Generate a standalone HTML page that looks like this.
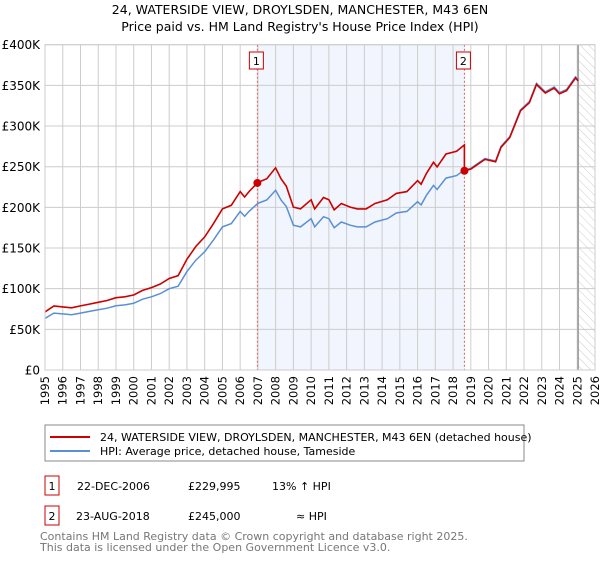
<!DOCTYPE html>
<html><head><meta charset="utf-8"><style>
body{margin:0;background:#fff;font-family:"Liberation Sans","DejaVu Sans",sans-serif;}
svg text{font-family:"DejaVu Sans","Liberation Sans",sans-serif;}
</style></head><body>
<svg id="chart" width="600" height="560" xmlns="http://www.w3.org/2000/svg">
<defs><pattern id="hatch" width="6" height="6" patternUnits="userSpaceOnUse" patternTransform="rotate(-45)"><line x1="0" y1="0" x2="0" y2="6" stroke="#ccc" stroke-width="1"/></pattern></defs>
<text x="300" y="14" text-anchor="middle" font-size="12.5">24, WATERSIDE VIEW, DROYLSDEN, MANCHESTER, M43 6EN</text>
<text x="300" y="31" text-anchor="middle" font-size="12.5">Price paid vs. HM Land Registry's House Price Index (HPI)</text>
<g id="plot"></g>
<rect x="45" y="425" width="479" height="36" fill="#fff" stroke="#888"/>
<line x1="50" y1="437" x2="90" y2="437" stroke="#cc0000" stroke-width="2"/>
<text x="100" y="441" font-size="11">24, WATERSIDE VIEW, DROYLSDEN, MANCHESTER, M43 6EN (detached house)</text>
<line x1="50" y1="451" x2="90" y2="451" stroke="#5b8fd4" stroke-width="2"/>
<text x="100" y="455" font-size="11">HPI: Average price, detached house, Tameside</text>
<rect x="45" y="476" width="14" height="19" fill="#fff" stroke="#cc0000"/>
<text x="52" y="490" text-anchor="middle" font-size="11">1</text>
<text x="77" y="490" font-size="11">22-DEC-2006</text>
<text x="188" y="490" font-size="11">£229,995</text>
<text x="272" y="490" font-size="11">13% ↑ HPI</text>
<rect x="45" y="506" width="14" height="19" fill="#fff" stroke="#cc0000"/>
<text x="52" y="520" text-anchor="middle" font-size="11">2</text>
<text x="76" y="520" font-size="11">23-AUG-2018</text>
<text x="188" y="520" font-size="11">£245,000</text>
<text x="296" y="520" font-size="11">≈ HPI</text>
<text x="40" y="540" font-size="11" fill="#777">Contains HM Land Registry data © Crown copyright and database right 2025.</text>
<text x="40" y="551" font-size="11" fill="#777">This data is licensed under the Open Government Licence v3.0.</text>
</svg>
<script>
const hpiYears=[1995,1995.5,1996,1996.5,1997,1997.5,1998,1998.5,1999,1999.5,2000,2000.5,2001,2001.5,2002,2002.5,2003,2003.5,2004,2004.5,2005,2005.5,2006,2006.25,2006.5,2007,2007.5,2008,2008.3,2008.6,2009,2009.4,2010,2010.2,2010.7,2011,2011.3,2011.7,2012.2,2012.6,2013.1,2013.6,2014.3,2014.8,2015.4,2016,2016.2,2016.5,2016.9,2017.1,2017.6,2018.2,2018.64,2019,2019.8,2020.4,2020.7,2021.2,2021.8,2022.3,2022.7,2023.2,2023.7,2024,2024.4,2024.9,2025.05];
const hpiValues=[63.5,70,69,68,70,72,74,76,79,80,82,87,90,94,100,103,121,135,145.5,160,176,180,195,189,195,205,209,221,209,201,178,176,186,176,188.5,186,175,182,178,176,176,182,186,193,195,207,203,215,227,222,236,239,246,248,260,257,275,287,320,330,352.5,342,348,341,345,360.5,357];
const yTicks=[0,50,100,150,200,250,300,350,400];
const yTickLabels=["£0","£50K","£100K","£150K","£200K","£250K","£300K","£350K","£400K"];
const xTicks=[1995,1996,1997,1998,1999,2000,2001,2002,2003,2004,2005,2006,2007,2008,2009,2010,2011,2012,2013,2014,2015,2016,2017,2018,2019,2020,2021,2022,2023,2024,2025,2026];
const saleYears=[2006.97,2018.64];
const salePrices=[229.995,245];
const saleLabels=["1","2"];
const L=45,R=595,T=44.7,B=370,X0=1995,X1=2026,YMAX=400,DATA_END=2025.05;
const sx=y=>L+(y-X0)*(R-L)/(X1-X0);
const sy=v=>B-v*(B-T)/YMAX;
const NS="http://www.w3.org/2000/svg";
const g=document.getElementById('plot');
function mk(t,a){const e=document.createElementNS(NS,t);for(const k in a)e.setAttribute(k,a[k]);g.appendChild(e);return e;}
function hpiAt(t){for(let i=0;i<hpiYears.length-1;i++){if(t<=hpiYears[i+1]){const f=(t-hpiYears[i])/(hpiYears[i+1]-hpiYears[i]);return hpiValues[i]+f*(hpiValues[i+1]-hpiValues[i]);}}return hpiValues[hpiValues.length-1];}
let sh=mk('rect',{x:sx(saleYears[0]),y:T,width:sx(saleYears[1])-sx(saleYears[0]),height:B-T,fill:'#eef3fc',opacity:0.8});


let hz=mk('rect',{x:sx(DATA_END),y:T,width:R-sx(DATA_END),height:B-T,fill:'url(#hatch)'});


xTicks.forEach(y=>{let l=mk('line',{x1:sx(y),y1:T,x2:sx(y),y2:B,stroke:'#ccc','stroke-width':1});


let t=mk('text',{x:0,y:0,'font-size':11.5,'text-anchor':'end',transform:`translate(${sx(y)+4},${B+6}) rotate(-90)`});t.textContent=y;

});
yTicks.forEach((v,i)=>{let l=mk('line',{x1:L,y1:sy(v),x2:R,y2:sy(v),stroke:'#ccc','stroke-width':1});


let t=mk('text',{x:40,y:sy(v)+4.5,'font-size':12,'text-anchor':'end'});t.textContent=yTickLabels[i];

});
let dl=mk('line',{x1:sx(DATA_END),y1:T,x2:sx(DATA_END),y2:B,stroke:'#999','stroke-width':1.5});


saleYears.forEach((s,i)=>{let l=mk('line',{x1:sx(s),y1:T,x2:sx(s),y2:B,stroke:'#e06060','stroke-width':1,'stroke-dasharray':'2,2'});


let r=mk('rect',{x:sx(s)-8,y:52,width:14,height:17,fill:'#fff',stroke:'#cc0000'});


let t=mk('text',{x:sx(s)-1,y:65,'font-size':11,'text-anchor':'middle'});t.textContent=saleLabels[i];});
let p='';hpiYears.forEach((y,i)=>{p+=(i?'L':'M')+sx(y).toFixed(1)+','+sy(hpiValues[i]).toFixed(1);});
let hl=mk('path',{d:p,fill:'none',stroke:'#5b8fd4','stroke-width':1.5});


const r1=salePrices[0]/hpiAt(saleYears[0]),r2=salePrices[1]/hpiAt(saleYears[1]);
let q='',first=true;
const pts=[...hpiYears.filter(y=>y<saleYears[1]),saleYears[1],saleYears[1],...hpiYears.filter(y=>y>saleYears[1])];
let usedSale=false;
pts.forEach(y=>{let sc;if(y<saleYears[1])sc=r1;else if(y===saleYears[1]&&!usedSale){sc=r1;usedSale=true;}else sc=r2;
q+=(first?'M':'L')+sx(y).toFixed(1)+','+sy(hpiAt(y)*sc).toFixed(1);first=false;});
let pl=mk('path',{d:q,fill:'none',stroke:'#cc0000','stroke-width':1.6});


saleYears.forEach((s,i)=>{let c=mk('circle',{cx:sx(s),cy:sy(salePrices[i]),r:4,fill:'#cc0000'});

});
let fr=mk('rect',{x:L,y:T,width:R-L,height:B-T,fill:'none',stroke:'#ccc'});


</script>
</body></html>
